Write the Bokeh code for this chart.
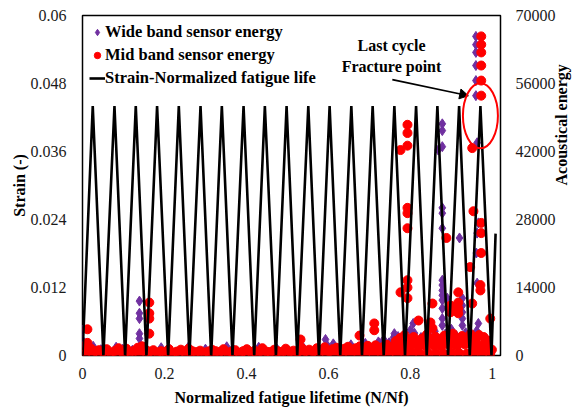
import math
from bokeh.plotting import figure
from bokeh.models import (Range1d, LinearAxis, FixedTicker, NumeralTickFormatter, Legend,
                          LegendItem, Label, ColumnDataSource)
from bokeh.embed import file_html
from bokeh.resources import INLINE

# ---------------- data ----------------
x_ticks = [0, 0.2, 0.4, 0.6, 0.8, 1]
strain_ticks = [0, 0.012, 0.024, 0.036, 0.048, 0.06]
energy_ticks = [0, 14000, 28000, 42000, 56000, 70000]

# strain cycles (valleys / peaks)
strain_x = [0.000, 0.025, 0.051, 0.078, 0.104, 0.130, 0.156, 0.182, 0.209, 0.235,
            0.261, 0.288, 0.314, 0.340, 0.366, 0.393, 0.419, 0.445, 0.472, 0.498,
            0.524, 0.551, 0.577, 0.603, 0.629, 0.656, 0.682, 0.708, 0.735, 0.761,
            0.787, 0.814, 0.840, 0.866, 0.892, 0.919, 0.945, 0.971, 0.998, 1.008]
strain_y = [0, 0.044, 0, 0.044, 0, 0.044, 0, 0.044, 0, 0.044,
            0, 0.044, 0, 0.044, 0, 0.044, 0, 0.044, 0, 0.044,
            0, 0.044, 0, 0.044, 0, 0.044, 0, 0.044, 0, 0.044,
            0, 0.044, 0, 0.044, 0, 0.044, 0, 0.044, 0, 0.0215]

# wide band sensor energy (purple diamonds)
wide_burst_x = [0.960, 0.960, 0.960, 0.960, 0.960, 0.960, 0.963, 0.878, 0.878, 0.878,
                0.868, 0.878, 0.878, 0.878, 0.920, 0.966, 0.963, 0.961, 0.878, 0.878,
                0.878, 0.878, 0.878, 0.878, 0.878, 0.878, 0.890, 0.927, 0.927, 0.927,
                0.927, 0.927, 0.963, 0.966, 0.807, 0.800, 0.759, 0.759, 0.761, 0.593,
                0.139, 0.139, 0.139, 0.139, 0.139, 0.000, 0.000]
wide_burst_e = [65700, 64000, 62400, 59700, 56600, 53500, 43800, 47700, 46300, 43000,
                42300, 30400, 29300, 26200, 24200, 27300, 25200, 21100, 15500, 14500,
                13400, 12400, 11400, 9700, 7600, 6200, 11800, 11800, 10300, 8900,
                7600, 6200, 14900, 6600, 6600, 5200, 3700, 3100, 4500, 3300,
                11200, 8700, 7600, 4500, 3500, 5200, 3100]
wide_band_x = [0.004, 0.010, 0.026, 0.045, 0.082, 0.098, 0.122, 0.141, 0.150, 0.192,
               0.214, 0.258, 0.300, 0.352, 0.367, 0.430, 0.475, 0.540, 0.598, 0.612,
               0.655, 0.690, 0.722, 0.735, 0.748, 0.770, 0.789, 0.810, 0.826, 0.845,
               0.860, 0.885, 0.900, 0.912, 0.935, 0.950, 0.962, 0.985]
wide_band_e = [2300, 1500, 1900, 1200, 1700, 1300, 1100, 2100, 1600, 1600,
               1200, 1700, 1300, 1800, 1400, 1700, 1300, 1500, 2000, 2400,
               2200, 2500, 2800, 3300, 2600, 3900, 3200, 4600, 3700, 4200,
               5000, 4400, 5400, 4100, 4700, 3900, 5100, 3400]

# mid band sensor energy (red circles)
mid_burst_x = [0.973, 0.973, 0.973, 0.973, 0.973, 0.973, 0.951, 0.793, 0.793, 0.793,
               0.776, 0.793, 0.793, 0.793, 0.888, 0.954, 0.973, 0.973, 0.973, 0.946,
               0.793, 0.793, 0.793, 0.776, 0.854, 0.917, 0.917, 0.917, 0.917, 0.971,
               0.971, 0.951, 0.995, 0.820, 0.849, 0.854, 0.898, 0.898, 0.712, 0.712,
               0.676, 0.532, 0.163, 0.163, 0.163, 0.163, 0.012]
mid_burst_e = [65700, 64000, 62400, 59700, 56600, 53500, 42700, 47500, 45800, 43200,
               42300, 30400, 29300, 26200, 24200, 29700, 27300, 25200, 21100, 18200,
               15500, 14000, 11800, 13000, 10700, 13000, 10900, 9700, 8700, 14500,
               13400, 10700, 7600, 7200, 6800, 5600, 8900, 10300, 6600, 5200,
               4100, 3300, 10900, 8700, 7600, 4500, 5400]
mid_band_x = [0.002, 0.012, 0.021, 0.031, 0.040, 0.050, 0.059, 0.069, 0.078, 0.088,
              0.097, 0.107, 0.116, 0.126, 0.135, 0.145, 0.154, 0.164, 0.173, 0.183,
              0.192, 0.202, 0.211, 0.221, 0.230, 0.240, 0.249, 0.259, 0.268, 0.278,
              0.287, 0.297, 0.306, 0.316, 0.325, 0.335, 0.344, 0.354, 0.363, 0.373,
              0.382, 0.392, 0.401, 0.411, 0.420, 0.430, 0.439, 0.449, 0.458, 0.468,
              0.477, 0.487, 0.496, 0.506, 0.515, 0.525, 0.534, 0.544, 0.553, 0.563,
              0.572, 0.582, 0.591, 0.601, 0.610, 0.620, 0.629, 0.639, 0.648, 0.658,
              0.667, 0.677, 0.686, 0.696, 0.705, 0.715, 0.724, 0.734, 0.743, 0.753,
              0.762, 0.772, 0.781, 0.791, 0.800, 0.810, 0.819, 0.829, 0.838, 0.848,
              0.857, 0.867, 0.876, 0.886, 0.895, 0.905, 0.914, 0.924, 0.933, 0.943,
              0.952, 0.962, 0.971, 0.981, 0.990, 0.999]
mid_band_e = [1800, 2600, 1400, 900, 1100, 700, 1300, 600, 900, 1500,
              800, 1400, 700, 1000, 1600, 1900, 1200, 800, 1100, 600,
              900, 700, 1300, 500, 800, 1200, 600, 1400, 900, 700,
              1000, 600, 800, 1200, 900, 700, 1300, 600, 800, 1100,
              500, 900, 1300, 700, 1000, 600, 1500, 800, 700, 1200,
              900, 600, 1400, 800, 1000, 700, 1600, 900, 1200, 800,
              1500, 1100, 1700, 900, 1300, 1600, 1000, 1400, 1800, 1200,
              1500, 1900, 1300, 2000, 1500, 2100, 1600, 1800, 2200, 1500,
              2000, 1700, 2300, 1900, 2100, 2500, 1800, 2300, 2000, 2600,
              2100, 2400, 1900, 2700, 2200, 2500, 2000, 2800, 2300, 2600,
              2100, 2500, 1900, 2300, 1800, 1200]
mid_upper_x = [0.765, 0.775, 0.786, 0.797, 0.808, 0.818, 0.829, 0.840, 0.851, 0.861,
               0.872, 0.883, 0.894, 0.904, 0.915, 0.926, 0.936, 0.947, 0.958, 0.968,
               0.979, 0.988]
mid_upper_e = [3000, 3600, 4200, 3300, 3800, 3000, 3500, 4300, 3200, 3900,
               3400, 4100, 3600, 4500, 3300, 4000, 3700, 4400, 3500, 4200,
               3800, 3100]
mid_floor_x = [0.006, 0.025, 0.044, 0.063, 0.082, 0.101, 0.120, 0.139, 0.158, 0.177,
               0.196, 0.215, 0.234, 0.253, 0.272, 0.291, 0.310, 0.329, 0.348, 0.367,
               0.386, 0.405, 0.424, 0.443, 0.462, 0.481, 0.500, 0.519, 0.538, 0.557,
               0.577, 0.596, 0.615, 0.634, 0.653, 0.672, 0.691, 0.710, 0.729, 0.748,
               0.767, 0.786, 0.805, 0.824, 0.843, 0.862, 0.881, 0.900, 0.919, 0.938,
               0.957, 0.976, 0.995]
mid_floor_e = [300, 500, 400, 300, 500, 400, 300, 500, 400, 300,
               500, 400, 300, 500, 400, 300, 500, 400, 300, 500,
               400, 300, 500, 400, 300, 500, 400, 300, 500, 400,
               500, 400, 600, 500, 400, 600, 500, 400, 600, 500,
               400, 600, 500, 400, 600, 500, 400, 600, 500, 400,
               600, 500, 400]

# annotation anchors (energy units)
note_x = 0.754
note1_e = 63800
note2_e = 59500
arrow_start = (0.756, 56800)
arrow_end = (0.935, 53600)
ellipse_center = (0.971, 49350)

FONT = "Liberation Serif"
PURPLE = "#7030A0"
RED = "#FF0000"

X_MAX = 1.02
E_MAX = 70000
FRAME_W = 587 - 82 - 87
FRAME_H = 411 - 15 - 56

p = figure(width=587, height=411, output_backend="svg", toolbar_location=None,
           x_range=Range1d(0, X_MAX), y_range=Range1d(0, 0.06),
           min_border_left=82, min_border_right=87, min_border_top=15, min_border_bottom=56)
p.extra_y_ranges = {"energy": Range1d(0, E_MAX)}
p.xgrid.visible = False
p.ygrid.visible = False
p.outline_line_color = "black"
p.outline_line_width = 1.5
p.background_fill_color = "white"
p.border_fill_color = "white"


def style_axis(ax, standoff):
    ax.major_tick_line_color = None
    ax.minor_tick_line_color = None
    ax.major_tick_out = 0
    ax.major_tick_in = 0
    ax.minor_tick_out = 0
    ax.axis_line_color = None
    ax.major_label_text_font = FONT
    ax.major_label_text_font_size = "16px"
    ax.major_label_text_color = "#1a1a1a"
    ax.major_label_standoff = standoff
    ax.axis_label_text_font = FONT
    ax.axis_label_text_font_size = "16px"
    ax.axis_label_text_font_style = "bold"
    ax.axis_label_text_color = "black"


xa = p.xaxis[0]
style_axis(xa, 12)
xa.ticker = FixedTicker(ticks=x_ticks)
xa.formatter = NumeralTickFormatter(format="0.[0]")
xa.axis_label = "Normalized fatigue lifetime (N/Nf)"
xa.axis_label_standoff = 7

ya = p.yaxis[0]
style_axis(ya, 16)
ya.ticker = FixedTicker(ticks=strain_ticks)
ya.formatter = NumeralTickFormatter(format="0.[000]")
ya.axis_label = "Strain (-)"
ya.axis_label_standoff = 0

ra = LinearAxis(y_range_name="energy")
style_axis(ra, 15)
ra.ticker = FixedTicker(ticks=energy_ticks)
ra.formatter = NumeralTickFormatter(format="0")
ra.axis_label = "Acoustical energy"
ra.axis_label_standoff = 3
if "axis_label_orientation" in ra.properties():
    ra.axis_label_orientation = math.pi / 2
p.add_layout(ra, "right")

wide_src = ColumnDataSource(dict(x=wide_band_x + wide_burst_x, y=wide_band_e + wide_burst_e))
mid_src = ColumnDataSource(dict(x=mid_floor_x + mid_band_x + mid_upper_x + mid_burst_x,
                                y=mid_floor_e + mid_band_e + mid_upper_e + mid_burst_e))

r_wide = p.scatter("x", "y", source=wide_src, marker="diamond", size=10,
                   fill_color=PURPLE, line_color=PURPLE, y_range_name="energy")
r_mid = p.scatter("x", "y", source=mid_src, marker="circle", size=9,
                  fill_color=RED, line_color=RED, y_range_name="energy")
r_strain = p.line(strain_x, strain_y, line_color="black", line_width=2.6)

legend = Legend(items=[LegendItem(label="Wide band sensor energy", renderers=[r_wide]),
                       LegendItem(label="Mid band sensor energy", renderers=[r_mid]),
                       LegendItem(label="Strain-Normalized fatigue life", renderers=[r_strain])],
                location="top_left", margin=7, padding=5, spacing=3,
                glyph_width=16, glyph_height=20, label_height=20, label_standoff=0,
                label_text_font=FONT, label_text_font_size="16.5px",
                label_text_font_style="bold", label_text_color="black",
                background_fill_alpha=0, border_line_color=None)
p.add_layout(legend)

for txt, yy in (("Last cycle", note1_e), ("Fracture point", note2_e)):
    p.add_layout(Label(x=note_x, y=yy, y_range_name="energy", text=txt,
                       text_align="center", text_baseline="middle",
                       text_font=FONT, text_font_size="16px", text_font_style="bold",
                       text_color="black"))

# arrow: shaft + triangular head (screen-space direction)
px_per_x = FRAME_W / X_MAX
px_per_e = FRAME_H / E_MAX
dxs = (arrow_end[0] - arrow_start[0]) * px_per_x
dys = (arrow_end[1] - arrow_start[1]) * px_per_e
ang = math.atan2(dys, dxs)
head_back = 3.0
head_x = arrow_end[0] - head_back * math.cos(ang) / px_per_x
head_y = arrow_end[1] - head_back * math.sin(ang) / px_per_e
p.segment(x0=[arrow_start[0]], y0=[arrow_start[1]], x1=[head_x], y1=[head_y],
          line_color="black", line_width=1.6, y_range_name="energy")
p.scatter(x=[head_x], y=[head_y], marker="triangle", size=10, angle=ang - math.pi / 2,
          fill_color="black", line_color="black", y_range_name="energy")

p.ellipse(x=[ellipse_center[0]], y=[ellipse_center[1]], width=35, height=65,
          width_units="screen", height_units="screen", fill_color=None,
          line_color=RED, line_width=2, y_range_name="energy")

open("out.html", "w").write(file_html(p, INLINE))
